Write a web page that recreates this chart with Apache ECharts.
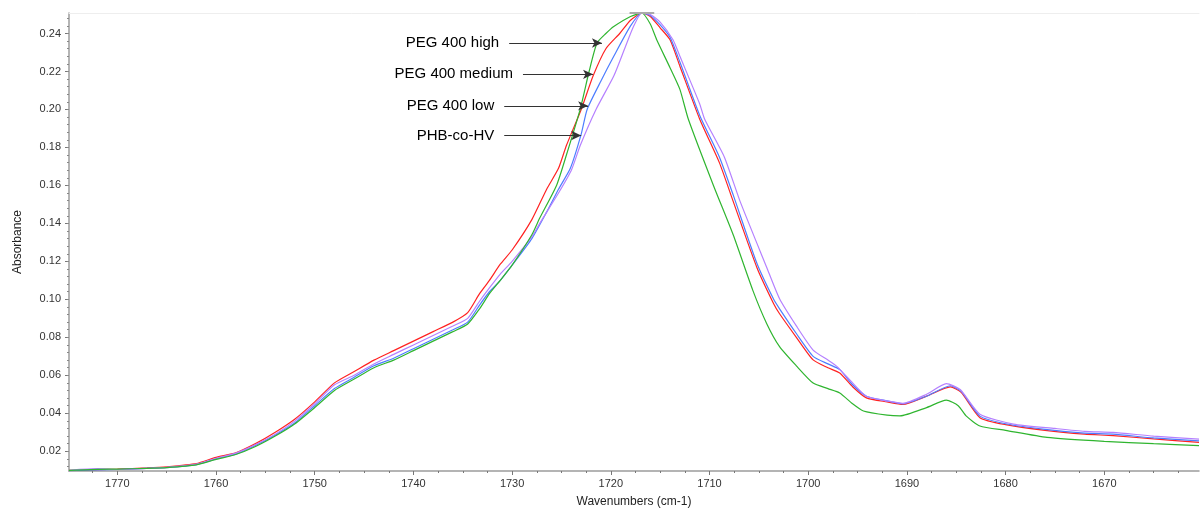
<!DOCTYPE html>
<html><head><meta charset="utf-8">
<script src="https://cdn.jsdelivr.net/npm/echarts@6/dist/echarts.min.js"></script>
<style>html,body{margin:0;padding:0;background:#fff}#c{width:1200px;height:513px}</style>
</head><body><div id="c"></div>
<script>
const xTickLabels = [1670,1680,1690,1700,1710,1720,1730,1740,1750,1760,1770];
const yTickLabels = [0.02,0.04,0.06,0.08,0.10,0.12,0.14,0.16,0.18,0.20,0.22,0.24];
const seriesNames = ['PEG 400 high','PEG 400 medium','PEG 400 low','PHB-co-HV'];

const pegHigh = [[1774.9,0.0099],[1772,0.0105],[1770,0.0106],[1767,0.011],[1765,0.0114],[1762,0.0128],[1760,0.0157],[1758,0.0183],[1756,0.0225],[1754,0.028],[1752,0.0345],[1750,0.043],[1748,0.052],[1746,0.058],[1744,0.064],[1742,0.068],[1740,0.073],[1738,0.078],[1736,0.083],[1734.5,0.087],[1733.3,0.095],[1732.3,0.103],[1731.2,0.110],[1730,0.118],[1728,0.134],[1727.2,0.1428],[1725.5,0.160],[1724.5,0.176],[1723.1,0.2002],[1722.2,0.220],[1721.4,0.235],[1720.5,0.240],[1719.7,0.2437],[1718,0.249],[1716.85,0.2508],[1716,0.245],[1715.35,0.2367],[1714,0.222],[1713,0.2106],[1712.15,0.195],[1709.6,0.160],[1707.6,0.134],[1705.6,0.1046],[1704.2,0.0872],[1702.9,0.0751],[1701.2,0.065],[1699.5,0.0559],[1698,0.053],[1696.8,0.0507],[1695.5,0.045],[1694.4,0.0412],[1692,0.039],[1690.7,0.0386],[1688,0.043],[1686,0.0469],[1684.8,0.044],[1684,0.0386],[1682.6,0.0333],[1680,0.031],[1675.8,0.0273],[1670,0.0252],[1665,0.024],[1660.4,0.023]];

const pegMedium = [[1774.9,0.0099],[1772,0.0103],[1770,0.0106],[1767,0.0112],[1765,0.0118],[1762,0.0135],[1760,0.0168],[1758,0.0192],[1756,0.024],[1754,0.030],[1752,0.037],[1750,0.046],[1748,0.056],[1746,0.062],[1744,0.068],[1742,0.073],[1740,0.078],[1738,0.083],[1736,0.088],[1734.5,0.093],[1733.3,0.103],[1732.3,0.110],[1731.2,0.1185],[1730,0.126],[1728,0.142],[1726.5,0.158],[1725.3,0.169],[1724.5,0.181],[1723,0.200],[1721.8,0.2176],[1720.5,0.232],[1719.1,0.240],[1718,0.247],[1716.85,0.2508],[1716,0.249],[1715,0.243],[1714,0.2367],[1713,0.2228],[1711,0.195],[1709,0.172],[1707.6,0.1516],[1705.2,0.1168],[1703.5,0.0977],[1702.9,0.0924],[1701.2,0.080],[1699.5,0.0681],[1698,0.064],[1696.8,0.0612],[1695.5,0.054],[1694.1,0.0481],[1692,0.046],[1690.4,0.0447],[1688,0.049],[1685.6,0.0539],[1684.5,0.051],[1682.6,0.0377],[1680,0.034],[1676,0.031],[1672,0.029],[1669.1,0.0282],[1665,0.0265],[1660.4,0.0247]];

const pegLow = [[1774.9,0.0098],[1772,0.0102],[1770,0.0104],[1767,0.0110],[1765,0.0114],[1762,0.013],[1760,0.016],[1758,0.0185],[1756,0.023],[1754,0.0285],[1752,0.035],[1750,0.044],[1748,0.053],[1746,0.059],[1744,0.065],[1742,0.069],[1740,0.074],[1738,0.079],[1736,0.084],[1734.5,0.088],[1733.3,0.097],[1732.3,0.104],[1731.2,0.110],[1730,0.118],[1728,0.132],[1726.5,0.146],[1725.3,0.158],[1724.1,0.169],[1723,0.187],[1722.4,0.200],[1721,0.215],[1719.7,0.228],[1718,0.244],[1716.85,0.2508],[1716,0.2495],[1715,0.2445],[1714,0.238],[1713,0.225],[1711,0.197],[1709,0.175],[1707.6,0.155],[1705.2,0.119],[1703.5,0.100],[1702.9,0.095],[1701.2,0.082],[1699.5,0.070],[1698,0.066],[1696.8,0.063],[1695.5,0.055],[1694.1,0.049],[1692,0.0465],[1690.4,0.045],[1688,0.049],[1685.6,0.0545],[1684.5,0.0515],[1682.6,0.0385],[1680,0.0345],[1676,0.0315],[1672,0.0295],[1669.1,0.029],[1665,0.027],[1660.4,0.0255]];

const phbHV = [[1774.9,0.0100],[1772,0.0108],[1770,0.0104],[1767,0.011],[1765,0.0115],[1762,0.0132],[1760,0.0163],[1758,0.019],[1756,0.0235],[1754,0.029],[1752,0.036],[1750,0.045],[1748,0.055],[1746,0.060],[1744,0.066],[1742,0.071],[1740,0.076],[1738,0.081],[1736,0.086],[1734.5,0.090],[1733.3,0.099],[1732.3,0.106],[1731.2,0.1133],[1730,0.120],[1728,0.133],[1727.2,0.140],[1725.3,0.156],[1724,0.168],[1723.1,0.181],[1721.5,0.200],[1719.7,0.2176],[1718.6,0.232],[1717.7,0.2437],[1716.85,0.2508],[1716,0.250],[1715,0.246],[1713.7,0.2367],[1713,0.228],[1711,0.203],[1710.5,0.195],[1708.5,0.175],[1706.9,0.1516],[1704.2,0.1168],[1702.9,0.1003],[1701.2,0.086],[1699.5,0.0733],[1698,0.068],[1697.1,0.0647],[1695.5,0.056],[1694.1,0.049],[1692,0.0465],[1690.4,0.0452],[1688,0.050],[1686,0.0556],[1684.6,0.0525],[1682.6,0.0395],[1679.2,0.0343],[1675,0.032],[1672,0.0305],[1669.1,0.0299],[1665,0.028],[1660.4,0.0264]];

// annotation: [label, arrow start wavenumber, arrow tip wavenumber, absorbance]
const annotations = [
  ['PEG 400 high',   1730.3, 1720.9, 0.2350],
  ['PEG 400 medium', 1728.9, 1721.8, 0.2185],
  ['PEG 400 low',    1730.8, 1722.3, 0.2019],
  ['PHB-co-HV',      1730.8, 1723.0, 0.1863]
];

const xMin = 1660.4, xMax = 1774.9, yMin = 0.0096, yMax = 0.2508;
const xMinor = [], yMinor = [];
for (let v = 1662.5; v <= 1774; v += 2.5) xMinor.push(v);
for (let v = 0.012; v <= 0.25; v += 0.004) yMinor.push(+v.toFixed(3));

const FONT = 'Liberation Sans, Arial, sans-serif';
const colors = ['#2fb52f', '#ff2222', '#4d7dff', '#b580ff'];
const datasets = [pegHigh, pegMedium, pegLow, phbHV];

const axisLineStyle = {color: '#9c9c9c', width: 1.5};
const chart = echarts.init(document.getElementById('c'), null, {renderer: 'canvas'});

const series = datasets.map((d, i) => ({
  name: seriesNames[i], type: 'line', data: d, showSymbol: false, smooth: 0.2,
  xAxisIndex: 0, yAxisIndex: 0,
  lineStyle: {color: colors[i], width: 1.2}, itemStyle: {color: colors[i]},
  z: i === 0 ? 3 : 2, silent: true
}));

series[0].markLine = {
  silent: true, animation: false,
  symbol: ['none', 'arrow'], symbolSize: [7, 10],
  lineStyle: {color: '#333', width: 1, type: 'solid'},
  label: {show: true, position: 'start', distance: 10, color: '#000', fontSize: 15, fontFamily: FONT},
  data: annotations.map(a => [
    {coord: [a[1], a[3]], name: a[0], label: {formatter: a[0]}},
    {coord: [a[2], a[3]]}
  ]).concat([[
    {coord: [1718.1, yMax], symbol: 'none', lineStyle: {color: '#aaaaaa', width: 2}, label: {show: false}},
    {coord: [1715.6, yMax], symbol: 'none'}
  ]])
};

chart.setOption({
  animation: false,
  backgroundColor: '#fff',
  grid: {left: 69, right: 1, top: 13, bottom: 37, containLabel: false},
  xAxis: [
    {type: 'value', inverse: true, min: xMin, max: xMax, position: 'bottom',
     name: 'Wavenumbers (cm-1)', nameLocation: 'middle', nameGap: 25,
     nameTextStyle: {fontSize: 12, color: '#222', fontFamily: FONT},
     axisLine: {show: true, lineStyle: axisLineStyle},
     axisTick: {show: true, length: 4, lineStyle: {color: '#777'}, customValues: xTickLabels},
     axisLabel: {fontSize: 11, color: '#333', fontFamily: FONT, margin: 7, customValues: xTickLabels,
       formatter: v => String(Math.round(v))},
     splitLine: {show: false}},
    {type: 'value', inverse: true, min: xMin, max: xMax, position: 'bottom',
     axisLine: {show: false}, axisLabel: {show: false}, splitLine: {show: false},
     axisTick: {show: true, length: 2, lineStyle: {color: '#777'}, customValues: xMinor}},
    {type: 'value', inverse: true, min: xMin, max: xMax, position: 'top',
     axisLine: {show: true, lineStyle: {color: '#eeeeee', width: 1}},
     axisTick: {show: false}, axisLabel: {show: false}, splitLine: {show: false}}
  ],
  yAxis: [
    {type: 'value', min: yMin, max: yMax, position: 'left',
     name: 'Absorbance', nameLocation: 'middle', nameGap: 45,
     nameTextStyle: {fontSize: 12, color: '#222', fontFamily: FONT},
     axisLine: {show: true, lineStyle: axisLineStyle},
     axisTick: {show: true, length: 4, lineStyle: {color: '#777'}, customValues: yTickLabels},
     axisLabel: {fontSize: 11, color: '#333', fontFamily: FONT, margin: 8, customValues: yTickLabels,
       formatter: v => v.toFixed(2)},
     splitLine: {show: false}},
    {type: 'value', min: yMin, max: yMax, position: 'left',
     axisLine: {show: false}, axisLabel: {show: false}, splitLine: {show: false},
     axisTick: {show: true, length: 2, lineStyle: {color: '#888'}, customValues: yMinor}}
  ],
  series: series
});
</script></body></html>
